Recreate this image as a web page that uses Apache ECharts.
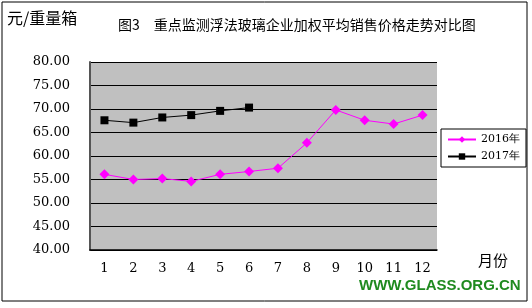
<!DOCTYPE html>
<html><head><meta charset="utf-8">
<script src="https://cdn.jsdelivr.net/npm/echarts@6/dist/echarts.min.js"></script>
<style>html,body{margin:0;padding:0;background:#fff}#c{width:532px;height:308px}</style>
</head><body><div id="c"></div>
<script>
const months = ['1','2','3','4','5','6','7','8','9','10','11','12'];
const yTicks = [40,45,50,55,60,65,70,75,80];
const s2016 = [56.1,55.0,55.2,54.6,56.1,56.7,57.4,62.8,69.8,67.6,66.8,68.7];
const s2017 = [67.6,67.1,68.2,68.7,69.6,70.3];
const chart = echarts.init(document.getElementById('c'));
const serif = '"DejaVu Serif","Liberation Serif",serif';
const cjk = '"Noto Sans CJK SC",sans-serif';
chart.setOption({
  animation:false,
  backgroundColor:'#fff',
  title:{text:'图3　重点监测浮法玻璃企业加权平均销售价格走势对比图',left:113,top:13,
    textStyle:{fontSize:14,fontWeight:'normal',color:'#000',fontFamily:cjk}},
  grid:{left:90,right:95,top:62,bottom:58},
  legend:{orient:'vertical',left:441,top:129,width:78,padding:[5,6,5,6],itemGap:6,
    borderColor:'#000',borderWidth:1,itemWidth:28,itemHeight:8,
    textStyle:{fontSize:11,color:'#000',fontFamily:serif},
    data:['2016年','2017年']},
  xAxis:{type:'category',data:months,boundaryGap:true,
    axisLine:{lineStyle:{color:'#000',width:1.5}},axisTick:{show:false},
    axisLabel:{fontSize:13,color:'#000',fontFamily:serif,margin:12}},
  yAxis:{type:'value',min:yTicks[0],max:yTicks[yTicks.length-1],interval:5,
    axisLine:{show:true,lineStyle:{color:'#555',width:2}},axisTick:{show:false},
    splitLine:{lineStyle:{color:'#000',width:1}},
    axisLabel:{fontSize:13,color:'#000',fontFamily:serif,margin:20,formatter:v=>v.toFixed(2)}},
  graphic:[
    {type:'rect',z:-1,shape:{x:90,y:62,width:347,height:188},style:{fill:'#C0C0C0'}},
    {type:'rect',shape:{x:2,y:2,width:525,height:299},style:{fill:'none',stroke:'#000',lineWidth:1}},
    {type:'text',left:7,top:10,style:{text:'元/重量箱',fontSize:16,fill:'#000',fontFamily:cjk}},
    {type:'text',left:478,top:253,style:{text:'月份',fontSize:15,fill:'#000',fontFamily:cjk}},
    {type:'text',left:359,top:278,style:{text:'WWW.GLASS.ORG.CN',fontSize:15,fontWeight:'bold',fill:'#1F8A1F',fontFamily:'"Liberation Sans",Arial,sans-serif'}}
  ],
  series:[
    {name:'2016年',type:'line',data:s2016,symbol:'diamond',symbolSize:10,
      itemStyle:{color:'#FF00FF'},lineStyle:{color:'#FF00FF',width:1}},
    {name:'2017年',type:'line',data:s2017,symbol:'rect',symbolSize:8,
      itemStyle:{color:'#000'},lineStyle:{color:'#000',width:1}}
  ]
});
</script></body></html>
